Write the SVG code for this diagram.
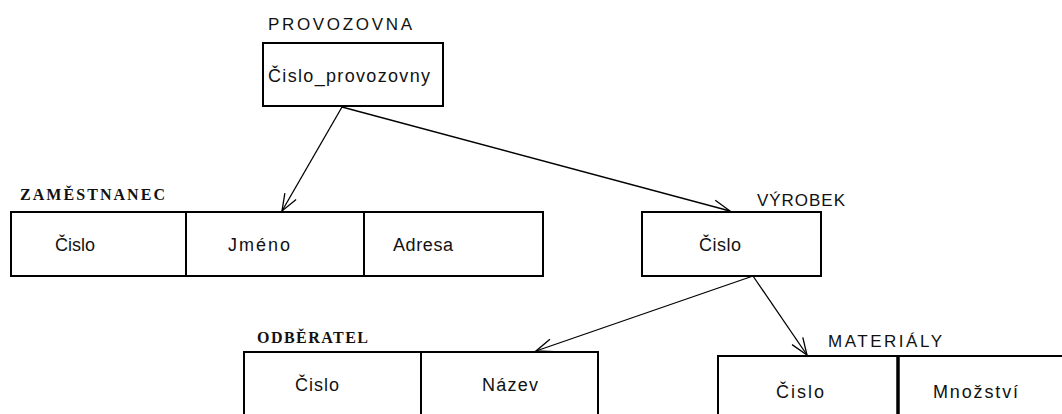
<svg xmlns="http://www.w3.org/2000/svg" width="1062" height="414" viewBox="0 0 1062 414">
  <style>
    .box { fill: #fff; stroke: #000; stroke-width: 2; }
    .div { stroke: #000; stroke-width: 2; }
    .cell { font-family: "Liberation Sans", Arial, sans-serif; font-size: 18px; fill: #111; }
    .title { font-family: "Liberation Sans", Arial, sans-serif; font-size: 17px; fill: #111; }
    .stitle { font-family: "Liberation Serif", "Times New Roman", serif; font-size: 16px; font-weight: bold; fill: #111; }
    .link { stroke: #000; stroke-width: 1.3; fill: none; marker-end: url(#arrow); }
  </style>
  <defs>
    <marker id="arrow" markerUnits="userSpaceOnUse" viewBox="-18 -8 20 16" refX="0" refY="0" markerWidth="20" markerHeight="16" orient="auto">
      <path d="M-17,-6.5 L0,0 L-17,6.5" fill="none" stroke="#000" stroke-width="1.3"/>
    </marker>
  </defs>

  <rect width="1062" height="414" fill="#fff"/>

  <!-- relationships -->
  <g id="connectors">
    <line class="link" x1="342" y1="107" x2="282" y2="211"/>
    <line class="link" x1="342" y1="107" x2="730" y2="211"/>
    <line class="link" x1="753" y1="276" x2="536" y2="351"/>
    <line class="link" x1="753" y1="276" x2="807" y2="355"/>
  </g>

  <g id="provozovna">
    <text class="title" x="268" y="30" textLength="144" lengthAdjust="spacing">PROVOZOVNA</text>
    <rect class="box" x="263" y="43" width="180" height="63"/>
    <text class="cell" x="268" y="82" textLength="162" lengthAdjust="spacing">Čislo_provozovny</text>
  </g>

  <g id="zamestnanec">
    <text class="stitle" x="20" y="200" textLength="145" lengthAdjust="spacing">ZAMĚSTNANEC</text>
    <rect class="box" x="11" y="212" width="532" height="64"/>
    <line class="div" x1="186" y1="212" x2="186" y2="276"/>
    <line class="div" x1="364" y1="212" x2="364" y2="276"/>
    <text class="cell" x="55" y="251" textLength="40" lengthAdjust="spacing">Čislo</text>
    <text class="cell" x="228" y="251" textLength="62" lengthAdjust="spacing">Jméno</text>
    <text class="cell" x="393" y="251" textLength="60" lengthAdjust="spacing">Adresa</text>
  </g>

  <g id="vyrobek">
    <text class="title" x="757" y="206" textLength="88" lengthAdjust="spacing">VÝROBEK</text>
    <rect class="box" x="642" y="212" width="179" height="64"/>
    <text class="cell" x="699" y="251" textLength="42" lengthAdjust="spacing">Čislo</text>
  </g>

  <g id="odberatel">
    <text class="stitle" x="257" y="343" textLength="111" lengthAdjust="spacing">ODBĚRATEL</text>
    <rect class="box" x="244" y="352" width="354" height="72"/>
    <line class="div" x1="421" y1="352" x2="421" y2="424"/>
    <text class="cell" x="295" y="391" textLength="44" lengthAdjust="spacing">Čislo</text>
    <text class="cell" x="482" y="391" textLength="56" lengthAdjust="spacing">Název</text>
  </g>

  <g id="materialy">
    <text class="title" x="828" y="347" textLength="114" lengthAdjust="spacing">MATERIÁLY</text>
    <rect class="box" x="718" y="356" width="360" height="72"/>
    <line class="div" x1="898" y1="356" x2="898" y2="428" style="stroke-width:3.5"/>
    <text class="cell" x="776" y="398" textLength="48" lengthAdjust="spacing">Čislo</text>
    <text class="cell" x="933" y="398" textLength="85" lengthAdjust="spacing">Množství</text>
  </g>
</svg>
